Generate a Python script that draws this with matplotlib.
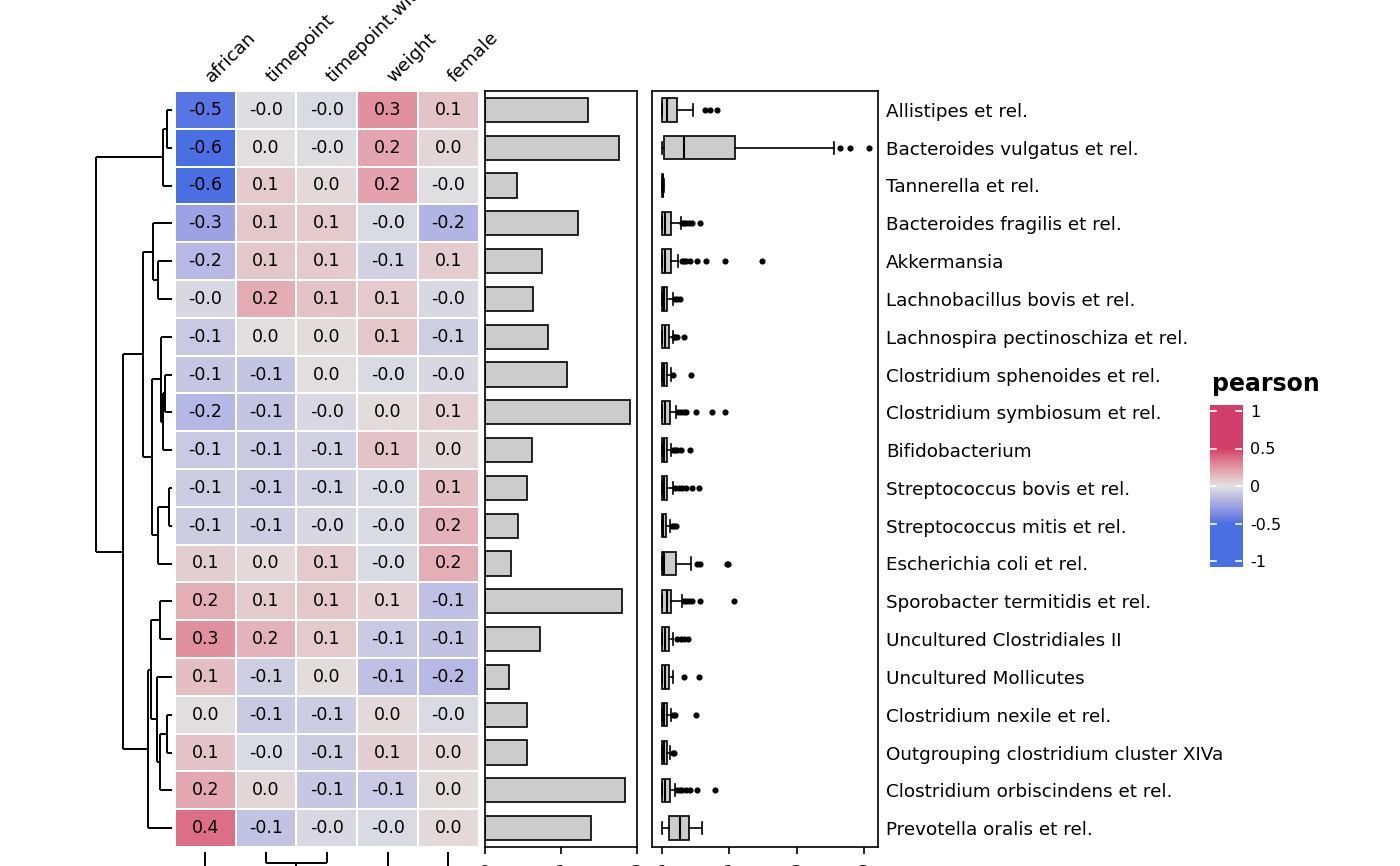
import numpy as np
import matplotlib
matplotlib.use("Agg")
import matplotlib.pyplot as plt
from matplotlib.colors import ListedColormap, Normalize

# ---------------- data ----------------
taxa = ["Allistipes et rel.", "Bacteroides vulgatus et rel.", "Tannerella et rel.",
        "Bacteroides fragilis et rel.", "Akkermansia", "Lachnobacillus bovis et rel.",
        "Lachnospira pectinoschiza et rel.", "Clostridium sphenoides et rel.",
        "Clostridium symbiosum et rel.", "Bifidobacterium", "Streptococcus bovis et rel.",
        "Streptococcus mitis et rel.", "Escherichia coli et rel.",
        "Sporobacter termitidis et rel.", "Uncultured Clostridiales II",
        "Uncultured Mollicutes", "Clostridium nexile et rel.",
        "Outgrouping clostridium cluster XIVa", "Clostridium orbiscindens et rel.",
        "Prevotella oralis et rel."]
variables = ["african", "timepoint", "timepoint.within.group", "weight", "female"]

pearson = np.array([
    [-0.47, -0.02, -0.03,  0.27,  0.10],
    [-0.58,  0.01, -0.02,  0.20,  0.04],
    [-0.62,  0.08,  0.03,  0.21, -0.01],
    [-0.27,  0.09,  0.08, -0.03, -0.19],
    [-0.17,  0.09,  0.08, -0.07,  0.07],
    [-0.04,  0.18,  0.10,  0.08, -0.04],
    [-0.10,  0.01,  0.02,  0.09, -0.08],
    [-0.11, -0.12,  0.01, -0.03, -0.04],
    [-0.18, -0.12, -0.04,  0.02,  0.06],
    [-0.10, -0.10, -0.07,  0.10,  0.04],
    [-0.09, -0.10, -0.07, -0.03,  0.12],
    [-0.09, -0.09, -0.04, -0.03,  0.16],
    [ 0.07,  0.03,  0.08, -0.03,  0.17],
    [ 0.17,  0.08,  0.09,  0.06, -0.14],
    [ 0.27,  0.16,  0.08, -0.10, -0.13],
    [ 0.12, -0.08,  0.02, -0.14, -0.17],
    [ 0.01, -0.10, -0.09,  0.03, -0.03],
    [ 0.10, -0.03, -0.09,  0.07,  0.04],
    [ 0.19,  0.04, -0.11, -0.10,  0.02],
    [ 0.37, -0.13, -0.04, -0.03,  0.03],
])

bar_values = [1.35, 1.76, 0.42, 1.22, 0.75, 0.63, 0.83, 1.08, 1.91, 0.62,
              0.55, 0.43, 0.34, 1.80, 0.72, 0.32, 0.55, 0.55, 1.84, 1.39]
bar_ticks = [0, 1, 2]

box_whislo = [0, 0, 0, 0, 0, 0, 0, 0, 0, 0, 0, 0, 0, 0, 0, 0, 0, 0, 0, 0]
box_q1 = [0.0, 0.03, 0.0, 0.0, 0.0, 0.0, 0.0, 0.0, 0.0, 0.0,
          0.0, 0.0, 0.0, 0.0, 0.0, 0.0, 0.0, 0.0, 0.0, 0.11]
box_med = [0.07, 0.32, 0.01, 0.05, 0.05, 0.03, 0.04, 0.03, 0.05, 0.03,
           0.03, 0.02, 0.03, 0.07, 0.04, 0.04, 0.03, 0.03, 0.05, 0.27]
box_q3 = [0.22, 1.08, 0.02, 0.14, 0.13, 0.07, 0.10, 0.08, 0.12, 0.07,
          0.08, 0.06, 0.21, 0.14, 0.10, 0.11, 0.07, 0.07, 0.12, 0.40]
box_whishi = [0.46, 2.55, 0.03, 0.28, 0.24, 0.16, 0.16, 0.14, 0.21, 0.14,
              0.16, 0.12, 0.43, 0.29, 0.17, 0.17, 0.14, 0.12, 0.19, 0.60]
box_fliers = [
    [0.64, 0.72, 0.81],
    [2.64, 2.79, 3.07],
    [],
    [0.30, 0.33, 0.36, 0.40, 0.45, 0.57],
    [0.30, 0.33, 0.36, 0.42, 0.52, 0.66, 0.94, 1.48],
    [0.19, 0.22, 0.26],
    [0.18, 0.20, 0.23, 0.33],
    [0.17, 0.43],
    [0.24, 0.28, 0.32, 0.35, 0.50, 0.74, 0.93],
    [0.16, 0.19, 0.23, 0.28, 0.41],
    [0.20, 0.25, 0.30, 0.35, 0.44, 0.55],
    [0.15, 0.18, 0.21],
    [0.52, 0.57, 0.96, 0.98],
    [0.32, 0.36, 0.40, 0.45, 0.56, 1.07],
    [0.22, 0.28, 0.33, 0.39],
    [0.33, 0.55],
    [0.17, 0.20, 0.50],
    [0.16, 0.18],
    [0.22, 0.26, 0.30, 0.35, 0.42, 0.52, 0.79],
    [],
]
box_ticks = [0, 1, 2, 3]

# row dendrogram merges (child_a, child_b, height); nodes >= 20 are earlier merges
row_merges = [
    (0, 1, 4.7), (20, 2, 9.3), (4, 5, 13.7), (3, 22, 18.7), (7, 8, 7.0),
    (24, 9, 8.7), (6, 25, 11.0), (10, 11, 2.7), (27, 12, 13.7), (26, 28, 20.3),
    (23, 29, 29.3), (13, 14, 12.0), (16, 17, 5.3), (32, 18, 12.0), (15, 33, 14.7),
    (31, 34, 21.5), (35, 19, 23.7), (30, 36, 49.3), (21, 37, 76.0),
]
# column dendrogram merges
col_merges = [(1, 2, 11.0), (3, 4, 25.0), (5, 6, 40.0), (0, 7, 60.0)]

legend_ticks = [1, 0.5, 0, -0.5, -1]
legend_labels = ["1", "0.5", "0", "-0.5", "-1"]

# ---------------- colour scale (Lab interpolation) ----------------
def hex2rgb(h):
    h = h.lstrip('#')
    return np.array([int(h[i:i + 2], 16) / 255 for i in (0, 2, 4)])

def srgb2lab(rgb):
    c = np.where(rgb > 0.04045, ((rgb + 0.055) / 1.055) ** 2.4, rgb / 12.92)
    M = np.array([[0.4124, 0.3576, 0.1805], [0.2126, 0.7152, 0.0722], [0.0193, 0.1192, 0.9505]])
    xyz = M @ c / np.array([0.95047, 1.0, 1.08883])
    f = np.where(xyz > 0.008856, np.cbrt(xyz), 7.787 * xyz + 16 / 116)
    return np.array([116 * f[1] - 16, 500 * (f[0] - f[1]), 200 * (f[1] - f[2])])

def lab2srgb(lab):
    L, a, b = lab
    fy = (L + 16) / 116
    fx = fy + a / 500
    fz = fy - b / 200
    f = np.array([fx, fy, fz])
    xyz = np.where(f ** 3 > 0.008856, f ** 3, (f - 16 / 116) / 7.787) * np.array([0.95047, 1.0, 1.08883])
    Minv = np.array([[3.2406, -1.5372, -0.4986], [-0.9689, 1.8758, 0.0415], [0.0557, -0.2040, 1.0570]])
    c = Minv @ xyz
    c = np.clip(c, 0, 1)
    rgb = np.where(c > 0.0031308, 1.055 * c ** (1 / 2.4) - 0.055, 12.92 * c)
    return np.clip(rgb, 0, 1)

lab_blue = srgb2lab(hex2rgb("#4A6FE3"))
lab_mid = srgb2lab(hex2rgb("#E2E2E2"))
lab_red = srgb2lab(hex2rgb("#D33F6A"))
vals = np.linspace(-1, 1, 513)
cols = []
for v in vals:
    t = np.clip(v / 0.5, -1, 1)
    if t < 0:
        lab = lab_mid + (-t) * (lab_blue - lab_mid)
    else:
        lab = lab_mid + t * (lab_red - lab_mid)
    cols.append(lab2srgb(lab))
cmap = ListedColormap(cols)
norm = Normalize(-1, 1)

# ---------------- figure ----------------
W, H = 1400, 866
fig = plt.figure(figsize=(W / 100, H / 100), dpi=100)

def px_axes(x0, y0, x1, y1):
    return fig.add_axes([x0 / W, 1 - y1 / H, (x1 - x0) / W, (y1 - y0) / H])

FS = 13.2
n_rows, n_cols = pearson.shape
TOP, BOT = 91, 847

# heatmap
axh = px_axes(175, TOP, 478.7, BOT)
axh.pcolormesh(np.arange(n_cols + 1), np.arange(n_rows + 1), pearson, cmap=cmap, norm=norm,
               edgecolors='white', linewidth=1.2)
axh.set_xlim(0, n_cols)
axh.set_ylim(n_rows, 0)
axh.axis('off')
for i in range(n_rows):
    for j in range(n_cols):
        axh.text(j + 0.5, i + 0.5, f"{pearson[i, j]:.1f}", ha='center', va='center',
                 fontsize=12.5, color='black')
for j, name in enumerate(variables):
    axh.text(j + 0.6, -0.22, name, rotation=45, rotation_mode='anchor', ha='left',
             va='baseline', fontsize=FS, clip_on=False)

# dendrogram helper
def draw_dendro(ax, merges, n, orient):
    pos = {i: i + 0.5 for i in range(n)}
    hgt = {i: 0.0 for i in range(n)}
    segs = []
    for k, (a, b, h) in enumerate(merges):
        node = n + k
        for c in (a, b):
            segs.append(((hgt[c], pos[c]), (h, pos[c])))
        segs.append(((h, pos[a]), (h, pos[b])))
        pos[node] = (pos[a] + pos[b]) / 2
        hgt[node] = h
    for (h0, p0), (h1, p1) in segs:
        if orient == 'left':
            ax.plot([h0, h1], [p0, p1], color='black', lw=1.4, solid_capstyle='butt', clip_on=False)
        else:
            ax.plot([p0, p1], [h0, h1], color='black', lw=1.4, solid_capstyle='butt', clip_on=False)

axd = px_axes(96, TOP, 172, BOT)
draw_dendro(axd, row_merges, n_rows, 'left')
axd.set_xlim(76, 0)
axd.set_ylim(n_rows, 0)
axd.axis('off')

axc = px_axes(175, 852, 478.7, 952)
draw_dendro(axc, col_merges, n_cols, 'bottom')
axc.set_xlim(0, n_cols)
axc.set_ylim(100, 0)
axc.axis('off')

# barplot
axb = px_axes(485, TOP, 637, BOT)
axb.barh(np.arange(n_rows) + 0.5, bar_values, height=0.64, color='#CCCCCC',
         edgecolor='black', linewidth=1.2)
axb.set_xlim(0, 2)
axb.set_ylim(n_rows, 0)
axb.set_yticks([])
axb.set_xticks(bar_ticks)
axb.set_xticklabels([str(t) for t in bar_ticks])
axb.tick_params(axis='x', length=5, width=1.2, labelsize=FS, pad=7.5)
for s in axb.spines.values():
    s.set_linewidth(1.2)

# boxplot
axx = px_axes(652, TOP, 878, BOT)
stats = []
for i in range(n_rows):
    stats.append(dict(med=box_med[i], q1=box_q1[i], q3=box_q3[i], whislo=box_whislo[i],
                      whishi=box_whishi[i], fliers=box_fliers[i]))
axx.bxp(stats, positions=np.arange(n_rows) + 0.5, widths=0.62, orientation='horizontal',
        patch_artist=True, capwidths=0.32,
        boxprops=dict(facecolor='#CCCCCC', edgecolor='black', linewidth=1.2),
        medianprops=dict(color='black', linewidth=1.5),
        whiskerprops=dict(color='black', linewidth=1.2),
        capprops=dict(color='black', linewidth=1.2),
        flierprops=dict(marker='o', markersize=3.4, markerfacecolor='black',
                        markeredgecolor='black', linestyle='none'))
axx.set_xlim(-0.149, 3.21)
axx.set_ylim(n_rows, 0)
axx.set_xticks(box_ticks)
axx.set_xticklabels([str(t) for t in box_ticks])
axx.tick_params(axis='x', length=5, width=1.2, labelsize=FS, pad=7.5)
axx.set_yticks(np.arange(n_rows) + 0.5)
axx.set_yticklabels(taxa)
axx.yaxis.tick_right()
axx.tick_params(axis='y', length=0, pad=6, labelsize=FS)
for s in axx.spines.values():
    s.set_linewidth(1.2)

# legend
axl = px_axes(1210, 405, 1242, 567)
grad = np.linspace(1.08, -1.08, 300).reshape(-1, 1)
axl.imshow(grad, cmap=cmap, norm=norm, aspect='auto', extent=[0, 1, -1.08, 1.08])
axl.set_xlim(0, 1)
axl.set_ylim(-1.08, 1.08)
for v in legend_ticks:
    axl.plot([0, 0.2], [v, v], color='white', lw=1.2)
    axl.plot([0.8, 1], [v, v], color='white', lw=1.2)
axl.set_xticks([])
axl.yaxis.tick_right()
axl.set_yticks(legend_ticks)
axl.set_yticklabels(legend_labels)
axl.tick_params(axis='y', length=0, pad=6, labelsize=11.5)
for s in axl.spines.values():
    s.set_visible(False)
fig.text(1212 / W, 1 - 384 / H, "pearson", fontweight='bold', fontsize=17, va='center', ha='left')

fig.savefig("out.png", dpi=100)
